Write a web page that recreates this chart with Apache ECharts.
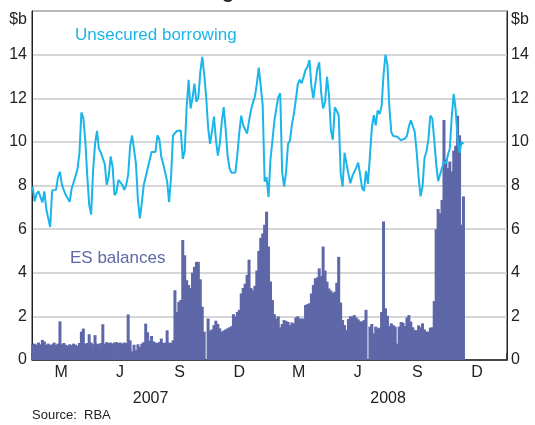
<!DOCTYPE html>
<html>
<head>
<meta charset="utf-8">
<script src="https://cdn.jsdelivr.net/npm/echarts@6/dist/echarts.min.js"></script>
<style>
html, body { margin: 0; padding: 0; background: #fff; }
#chart { width: 535px; height: 425px; }
</style>
</head>
<body>
<div id="chart"></div>
<script>
// sampling of the daily series: every 3rd day from 2 Jan 2007
var startDate = Date.UTC(2007, 0, 2);
var stepDays = 3;

// unsecured borrowing, $b
var unsecuredBorrowing = [
	7.95, 7.27, 7.62, 7.73, 7.72, 7.22, 7.73, 6.92, 6.5, 6.1,
	7.77, 7.86, 7.8, 8.38, 8.63, 8.05, 7.79, 7.56, 7.59, 7.25,
	7.85, 8.14, 8.43, 8.75, 9.48, 11.35, 11.1, 10.06, 8.46, 7.13,
	6.67, 8.67, 9.9, 10.5, 9.68, 9.51, 9.57, 8.98, 8.03, 8.4,
	9.33, 8.87, 7.56, 7.69, 8.26, 8.25, 8.03, 7.8, 8.03, 8.49,
	9.8, 10.29, 10.35, 9.0, 7.34, 6.49, 7.2, 8.03, 8.4, 8.44,
	9.16, 9.54, 9.62, 9.54, 10.3, 10.12, 9.31, 8.98, 9.05, 8.18,
	7.24, 8.38, 10.3, 10.27, 10.5, 10.41, 10.52, 9.22, 9.57, 11.6,
	12.84, 11.53, 12.0, 12.67, 11.83, 12.03, 13.2, 13.9, 13.1, 12.08,
	10.67, 9.91, 10.49, 11.16, 10.12, 9.37, 9.91, 10.9, 11.59, 10.6,
	9.36, 8.79, 8.58, 8.56, 8.6, 9.4, 10.43, 11.2, 10.76, 10.67,
	10.38, 10.96, 11.45, 11.8, 12.07, 12.66, 13.4, 13.35, 11.7, 8.18,
	8.37, 7.47, 9.2, 10.06, 10.96, 11.54, 12.05, 12.23, 8.6, 7.95,
	8.63, 9.9, 10.06, 10.8, 11.28, 11.92, 12.64, 12.85, 12.69, 12.98,
	13.3, 13.44, 13.75, 12.56, 12.0, 12.66, 13.34, 13.65, 12.26, 11.53,
	11.83, 12.98, 12.15, 10.53, 10.1, 11.59, 11.42, 11.2, 8.56, 7.95,
	9.5, 9.57, 8.52, 8.1, 8.43, 8.52, 8.82, 9.05, 8.5, 7.88,
	7.75, 8.67, 8.08, 9.33, 10.66, 11.22, 10.76, 11.44, 11.28, 11.63,
	13.07, 14.0, 13.53, 11.57, 10.44, 10.27, 10.18, 10.24, 10.23, 10.08,
	10.11, 10.15, 10.27, 10.7, 10.99, 10.95, 10.46, 9.53, 8.37, 7.5,
	7.95, 9.25, 9.56, 10.1, 11.2, 11.08, 10.1, 9.0, 8.2, 8.5,
	8.8, 9.1, 9.0, 9.4, 9.7, 11.16, 12.2, 11.47, 10.1, 9.5,
	10.0, 9.9
];

// exchange settlement balances, $b
var esBalances = [
	0.72, 0.75, 0.7, 0.8, 0.72, 0.92, 0.85, 0.7, 0.75, 0.68,
	0.72, 0.8, 0.7, 0.75, 1.77, 0.72, 0.78, 0.7, 0.65, 0.72,
	0.68, 0.75, 0.7, 0.65, 0.78, 1.3, 1.44, 0.75, 0.78, 1.18,
	0.8, 0.72, 1.14, 0.75, 0.72, 0.78, 1.64, 0.75, 0.82, 0.78,
	0.8, 0.76, 0.8, 0.82, 0.78, 0.8, 0.75, 0.8, 0.78, 2.09,
	0.9, 0.4, 0.7, 0.45, 0.72, 0.6, 0.75, 0.82, 1.67, 1.27,
	0.88, 1.1, 0.85, 0.8, 0.78, 0.82, 0.98, 0.78, 0.8, 1.36,
	0.8, 0.78, 0.9, 3.2, 2.2, 2.67, 2.75, 5.5, 4.8, 3.66,
	3.44, 3.3, 4.0, 4.27, 4.5, 4.5, 3.7, 2.44, 1.3, 0,
	1.9, 1.35, 1.4, 1.6, 1.8, 1.65, 1.45, 1.3, 1.35, 1.4,
	1.45, 1.5, 1.55, 2.1, 2.0, 2.2, 2.3, 3.05, 3.3, 3.5,
	3.9, 4.6, 3.3, 3.2, 3.4, 4.1, 5.0, 5.6, 5.8, 6.2,
	6.8, 5.2, 3.6, 2.75, 2.1, 1.9, 2.0, 1.5, 1.65, 1.83,
	1.78, 1.75, 1.6, 1.72, 1.68, 1.95, 2.0, 1.9, 1.9, 1.9,
	2.52, 2.56, 2.6, 3.05, 3.44, 3.74, 3.79, 4.2, 3.85, 5.2,
	4.1, 3.59, 3.28, 3.18, 3.08, 3.13, 3.54, 4.73, 2.63, 1.83,
	1.6, 1.37, 1.88, 2.0, 2.0, 2.06, 1.95, 1.86, 1.77, 1.77,
	1.83, 2.3, 0, 1.53, 1.65, 1.22, 1.53, 1.45, 1.48, 2.2,
	6.35, 2.37, 2.03, 1.56, 1.68, 1.6, 1.53, 0.75, 1.53, 1.74,
	1.71, 1.56, 1.95, 2.06, 1.76, 1.5, 1.37, 1.37, 1.59, 1.5,
	1.68, 1.4, 1.3, 1.3, 1.48, 1.5, 2.7, 6.0, 6.92, 6.73,
	7.34, 11.0, 9.2, 8.8, 9.1, 8.65, 9.6, 9.82, 11.2, 10.3,
	6.2, 7.5
];

// axis: quarters labelled by their last month
var quarterStarts = ["2007-01-01", "2007-04-01", "2007-07-01", "2007-10-01",
	"2008-01-01", "2008-04-01", "2008-07-01", "2008-10-01", "2009-01-01"];
var quarterLetters = ["M", "J", "S", "D", "M", "J", "S", "D"];
var yearStarts = ["2007-01-01", "2008-01-01", "2009-01-01"];
var yearLabels = ["2007", "2008"];
var yMin = 0, yMax = 16, yStep = 2;

function toTime(s) {
	var p = s.split("-");
	return Date.UTC(+p[0], +p[1] - 1, +p[2]);
}
function mids(list) {
	var out = [];
	for (var i = 0; i < list.length - 1; i++) {
		out.push(Math.round((toTime(list[i]) + toTime(list[i + 1])) / 2));
	}
	return out;
}
function nearest(arr, v) {
	var best = 0;
	for (var i = 1; i < arr.length; i++) {
		if (Math.abs(arr[i] - v) < Math.abs(arr[best] - v)) best = i;
	}
	return best;
}
function seriesData(values) {
	return values.map(function(v, i) {
		return [startDate + i * stepDays * 86400000, v];
	});
}

var quarterTicks = quarterStarts.map(toTime);
var quarterMids = mids(quarterStarts);
var yearMids = mids(yearStarts);
var xMin = toTime(quarterStarts[0]);
var xMax = toTime(quarterStarts[quarterStarts.length - 1]);

var lineColor = "#1bb5ea";
var barColor = "#5e67a7";
var textColor = "#222";
var font = "Liberation Sans, Arial, sans-serif";

function yLabel(v) {
	return v === yMax ? "{u|$b}" : String(v);
}
var yLabelRich = { u: { fontSize: 16, fontFamily: font, color: textColor, padding: [18, 0, 0, 0] } };

var option = {
	animation: false,
	backgroundColor: "#fff",
	textStyle: { fontFamily: font },
	grid: {
		left: 32, right: 28, top: 11, bottom: 65,
		show: true, borderColor: "#222", borderWidth: 1, backgroundColor: "transparent"
	},
	xAxis: [{
		type: "value", min: xMin, max: xMax,
		axisLine: { lineStyle: { color: "#222", width: 1.5 } },
		axisTick: { show: true, inside: true, length: 7, customValues: quarterTicks, lineStyle: { color: "#333", width: 1.5 } },
		axisLabel: {
			customValues: quarterMids, margin: 5, fontSize: 16, color: textColor, fontFamily: font,
			formatter: function(v) { return quarterLetters[nearest(quarterMids, v)]; }
		},
		splitLine: { show: false }
	}, {
		type: "value", min: xMin, max: xMax, position: "bottom",
		axisLine: { show: false }, axisTick: { show: false }, splitLine: { show: false },
		axisLabel: {
			customValues: yearMids, margin: 31, fontSize: 16, color: textColor, fontFamily: font,
			formatter: function(v) { return yearLabels[nearest(yearMids, v)]; }
		}
	}],
	yAxis: [{
		type: "value", min: yMin, max: yMax, interval: yStep, position: "left",
		axisLine: { show: true, lineStyle: { color: "#222", width: 1 } },
		axisTick: { show: false },
		axisLabel: { margin: 5, fontSize: 16, color: textColor, fontFamily: font, formatter: yLabel, rich: yLabelRich },
		splitLine: { show: true, lineStyle: { color: "#c6c8cb", width: 1.5 } }
	}, {
		type: "value", min: yMin, max: yMax, interval: yStep, position: "right",
		axisLine: { show: true, lineStyle: { color: "#222", width: 1 } },
		axisTick: { show: false },
		axisLabel: { margin: 4, fontSize: 16, color: textColor, fontFamily: font, formatter: yLabel, rich: yLabelRich },
		splitLine: { show: false }
	}],
	series: [{
		name: "ES balances", type: "bar",
		xAxisIndex: 0, yAxisIndex: 0,
		barWidth: 3, barGap: "-100%",
		itemStyle: { color: barColor },
		data: seriesData(esBalances)
	}, {
		name: "Unsecured borrowing", type: "line",
		xAxisIndex: 0, yAxisIndex: 0,
		showSymbol: false, symbol: "none",
		lineStyle: { color: lineColor, width: 2 },
		data: seriesData(unsecuredBorrowing)
	}],
	graphic: [
		{ type: "text", left: 75, top: 27, style: { text: "Unsecured borrowing", fill: lineColor, font: "17px " + font } },
		{ type: "text", left: 70, top: 250, style: { text: "ES balances", fill: barColor, font: "17px " + font } },
		{ type: "text", left: 32, top: 409, style: { text: "Source:  RBA", fill: textColor, font: "13px " + font } },
		{ type: "text", x: 268, y: 2, style: { text: "Overnight Cash Market", fill: "#222", font: "bold 20px " + font, align: "center", verticalAlign: "bottom" } }
	]
};

var myChart = echarts.init(document.getElementById("chart"));
myChart.setOption(option);
</script>
</body>
</html>
